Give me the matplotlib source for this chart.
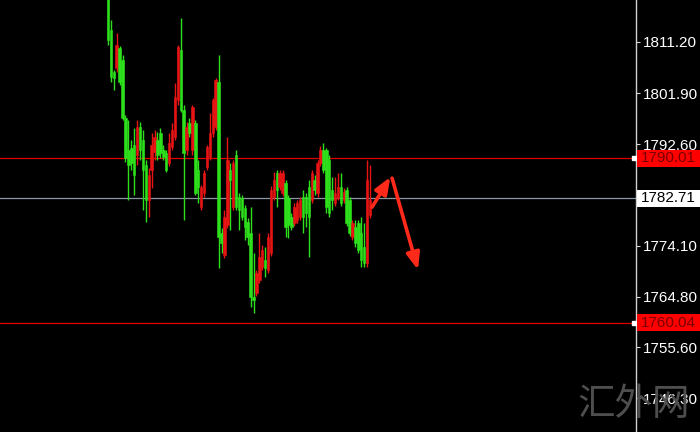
import matplotlib
matplotlib.use("Agg")
import matplotlib.pyplot as plt
from matplotlib.patches import Rectangle

# ---- data (prices) ----
opens = [1822.5, 1813.4, 1805.7, 1806.5, 1810.1, 1807.9, 1797.4, 1791.5, 1791.9, 1792.4,
         1790.6, 1795.7, 1793.3, 1788.8, 1782.4, 1787.9, 1791.2, 1793.3, 1794.6, 1791.5,
         1791.0, 1789.2, 1792.1, 1793.9, 1800.6, 1809.7, 1798.8, 1791.5, 1796.4, 1791.5,
         1796.4, 1787.9, 1781.1, 1783.7, 1788.4, 1790.3, 1794.6, 1795.7, 1803.9, 1776.4,
         1772.4, 1777.9, 1787.9, 1781.1, 1790.6, 1783.0, 1782.8, 1781.0, 1778.4, 1776.4,
         1764.7, 1765.5, 1767.8, 1770.2, 1771.5, 1769.7, 1772.8, 1783.0, 1787.3, 1784.8,
         1783.7, 1785.5, 1782.8, 1779.3, 1778.2, 1778.8, 1779.3, 1783.0, 1783.0, 1784.8,
         1782.4, 1786.1, 1783.7, 1789.2, 1791.5, 1791.5, 1789.7, 1784.2, 1781.9, 1782.8,
         1784.8, 1782.4, 1784.2, 1782.4, 1775.7, 1777.5, 1778.2, 1776.4, 1773.9, 1770.9,
         1779.7]
highs = [1823.4, 1815.2, 1806.1, 1812.8, 1810.5, 1808.8, 1797.9, 1797.0, 1793.3, 1795.5,
         1797.0, 1796.6, 1795.2, 1789.7, 1788.3, 1794.6, 1795.2, 1794.8, 1795.5, 1792.4,
         1791.5, 1794.6, 1796.4, 1803.7, 1810.7, 1815.6, 1799.7, 1796.6, 1797.4, 1799.7,
         1797.0, 1789.7, 1785.2, 1787.9, 1792.4, 1798.3, 1801.0, 1804.6, 1808.8, 1777.3,
         1780.6, 1793.9, 1789.2, 1789.7, 1791.5, 1783.7, 1783.3, 1781.5, 1779.1, 1781.1,
         1772.8, 1769.7, 1776.4, 1774.2, 1773.9, 1776.4, 1785.0, 1787.5, 1787.9, 1787.9,
         1787.9, 1786.1, 1783.3, 1780.0, 1781.9, 1782.4, 1783.0, 1784.2, 1783.7, 1786.1,
         1787.9, 1787.0, 1789.7, 1792.3, 1792.8, 1791.9, 1790.6, 1786.6, 1786.6, 1787.3,
         1787.3, 1784.6, 1784.8, 1783.0, 1778.8, 1778.8, 1778.8, 1779.3, 1778.2, 1789.7,
         1788.8]
lows = [1810.7, 1803.9, 1802.5, 1805.7, 1803.4, 1797.0, 1789.3, 1782.4, 1787.9, 1783.3,
        1788.8, 1789.7, 1780.6, 1778.4, 1779.3, 1784.6, 1789.7, 1789.7, 1790.1, 1789.7,
        1787.5, 1788.6, 1791.5, 1793.3, 1799.7, 1798.4, 1778.8, 1790.6, 1793.9, 1790.6,
        1783.3, 1781.9, 1780.6, 1783.0, 1787.9, 1789.7, 1793.9, 1795.2, 1770.0, 1772.8,
        1771.8, 1777.3, 1777.0, 1780.6, 1780.6, 1777.0, 1778.8, 1775.1, 1774.2, 1762.9,
        1761.8, 1764.9, 1767.3, 1769.7, 1768.4, 1769.1, 1772.2, 1782.4, 1781.1, 1784.2,
        1783.1, 1775.7, 1775.5, 1777.0, 1777.7, 1778.2, 1778.8, 1776.4, 1777.5, 1772.0,
        1781.9, 1783.3, 1783.0, 1788.6, 1787.3, 1780.0, 1779.3, 1780.6, 1781.3, 1782.4,
        1781.3, 1781.9, 1777.7, 1775.9, 1775.1, 1773.9, 1772.8, 1770.2, 1770.2, 1770.2,
        1779.1]
closes = [1811.6, 1804.8, 1804.6, 1810.7, 1803.9, 1797.4, 1790.1, 1788.8, 1789.2, 1787.0,
          1795.7, 1791.5, 1787.9, 1782.4, 1787.0, 1792.4, 1793.9, 1790.6, 1791.0, 1790.3,
          1787.9, 1792.8, 1795.2, 1801.2, 1810.3, 1798.8, 1791.0, 1795.7, 1794.6, 1799.4,
          1783.7, 1784.8, 1784.8, 1787.4, 1792.1, 1794.6, 1800.6, 1804.3, 1775.7, 1774.6,
          1779.3, 1789.7, 1786.1, 1789.2, 1781.1, 1780.6, 1779.3, 1777.5, 1775.7, 1764.7,
          1764.2, 1769.1, 1772.0, 1773.3, 1770.0, 1775.7, 1784.2, 1786.1, 1784.2, 1787.3,
          1787.3, 1777.5, 1777.9, 1777.5, 1781.1, 1781.9, 1782.4, 1779.3, 1780.0, 1779.3,
          1787.3, 1784.2, 1789.2, 1791.5, 1787.9, 1781.1, 1780.0, 1782.4, 1783.7, 1784.8,
          1781.9, 1783.9, 1778.2, 1776.4, 1778.2, 1774.6, 1773.3, 1771.5, 1770.9, 1786.1,
          1782.4]

tick_prices = [1811.20, 1801.90, 1792.60, 1774.10, 1764.80, 1755.60, 1746.30]
level_lines = [1790.01, 1760.04]
current_price = 1782.71

# arrows drawn on the chart: (x_start, y_start, x_end, y_end) in bar index / price
small_arrow = (90.7, 1781.1, 97.0, 1786.6)
big_arrow = (97.6, 1786.4, 106.5, 1769.7)

UP = "#e81414"
DOWN = "#2ee01c"
FONT = ["Liberation Sans", "DejaVu Sans"]

fig = plt.figure(figsize=(7, 4.32), dpi=100, facecolor="black")
ax = fig.add_axes([0, 0, 636 / 700, 1], facecolor="black")

w = 0.85
for i, (o, h, l, c) in enumerate(zip(opens, highs, lows, closes)):
    col = UP if c >= o else DOWN
    ax.vlines(i, l, h, color=col, lw=1.0, zorder=3)
    ax.add_patch(Rectangle((i - w / 2, min(o, c)), w, max(abs(c - o), 0.15),
                           facecolor=col, edgecolor=col, lw=0.4, zorder=4))

ax.set_xlim(-37.1, 181.4)
ax.set_ylim(1740.16, 1818.85)

for lv in level_lines:
    ax.axhline(lv, color="#e00000", lw=0.9, zorder=2)
ax.axhline(current_price, color="#8a96a6", lw=0.9, zorder=2)

for a in (small_arrow, big_arrow):
    ax.annotate("", xy=(a[2], a[3]), xytext=(a[0], a[1]),
                arrowprops=dict(arrowstyle="-|>,head_length=1.0,head_width=0.4",
                                color="#ff2a1a", lw=2.6, shrinkA=0, shrinkB=0),
                zorder=6)

# axis styling
for s in ("top", "left", "bottom"):
    ax.spines[s].set_visible(False)
ax.spines["right"].set_color("#d0d0d0")
ax.spines["right"].set_linewidth(1.0)
ax.set_xticks([])
ax.yaxis.tick_right()
ax.set_yticks(tick_prices)
ax.set_yticklabels([f"{t:.2f}" for t in tick_prices], family=FONT)
ax.tick_params(axis="y", colors="#d8d8d8", labelcolor="white", length=3,
               width=0.8, pad=2, labelsize=11)

# watermark
fig.text(0.905, 0.063, "汇外网", color="#4e4e4e", fontsize=27,
         family=["Noto Sans CJK SC", "DejaVu Sans"], ha="center", va="center",
         zorder=0)

# price tags
def tag(price, face, tc):
    yf = (price - 1740.16) / (1818.85 - 1740.16)
    h = 17 / 432
    fig.patches.append(Rectangle((637 / 700, yf - h / 2), 63 / 700, h,
                                 transform=fig.transFigure, facecolor=face,
                                 edgecolor="none", zorder=5))
    fig.text(641 / 700, yf, f"{price:.2f}", color=tc, fontsize=11, family=FONT,
             ha="left", va="center", zorder=6)

for lv in level_lines:
    tag(lv, "#ff0000", "#7a0000")
    ax.plot([180.6], [lv], marker="s", ms=2.2, color="white", zorder=7,
            clip_on=False)
tag(current_price, "white", "black")

fig.savefig("out.png", dpi=100, facecolor="black")
